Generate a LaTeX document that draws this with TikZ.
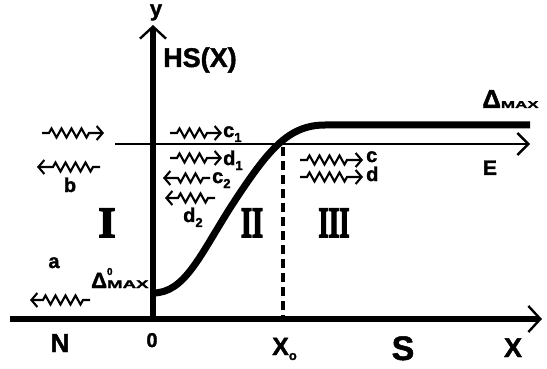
\documentclass[tikz,border=0pt]{standalone}
\usepackage{fontspec}
\setmainfont{Liberation Sans}[BoldFeatures={FakeBold=1.5}]
\newfontfamily\romfont{Liberation Serif}[BoldFeatures={FakeBold=4}]
\usetikzlibrary{arrows.meta,decorations.pathmorphing}
\newcommand\subidx[1]{\raisebox{-5pt}{\fontsize{13}{13}\selectfont#1}}
\newcommand\fs[1]{\bfseries\fontsize{#1}{#1}\selectfont}
\newcommand\wide[1]{\scalebox{1.7}[1]{#1}}
\tikzset{ax/.style={line width=6.5pt},
 tip/.style={-{Straight Barb[line width=2.4pt,length=12pt,width=26pt]}},
 spr/.style={line width=2.1pt,-{Straight Barb[line width=2.1pt,length=6pt,width=14pt]},decorate,
  decoration={zigzag,amplitude=4.5pt,segment length=10pt,pre length=7pt,post length=12pt}},
 lbl/.style={inner sep=0pt,anchor=base,font=\fs{20}},
 rom/.style={inner sep=0pt,anchor=base,font=\romfont\fs{43}}}
\begin{document}
\begin{tikzpicture}[x=1pt,y=-1pt]
\useasboundingbox (0,0) rectangle (547,369);
\coordinate (xl) at (10,319);\coordinate (xr) at (542,319);
\coordinate (yb) at (153,322);\coordinate (yt) at (153,25);
\coordinate (el) at (115,144);\coordinate (er) at (530,144);
\coordinate (cs) at (153,293);\coordinate (cm) at (232,205);
\coordinate (cf) at (325,125);\coordinate (ce) at (530,125);
\coordinate (dt) at (283,147);\coordinate (db) at (283,316);
\draw[ax,tip] (xl)--(xr);
\draw[line width=6pt,tip] (yb)--(yt);
\draw[line width=2.5pt,-{Straight Barb[line width=2.4pt,length=11pt,width=22pt]}] (el)--(er);
\draw[line width=7pt] (cs)..controls (185,293) and (200,255)..(cm)
 ..controls (268,150) and (288,125)..(cf)--(ce);
\draw[line width=3.5pt,dash pattern=on 9pt off 5pt] (dt)--(db);
% springs
\coordinate (p1) at (42,133);\coordinate (p2) at (104,133);
\coordinate (q1) at (100,167);\coordinate (q2) at (37,167);
\coordinate (k1) at (170,133);\coordinate (k2) at (222,133);
\coordinate (m1) at (170,158);\coordinate (m2) at (222,158);
\coordinate (n1) at (210,178);\coordinate (n2) at (163,178);
\coordinate (t1) at (215,198);\coordinate (t2) at (165,198);
\coordinate (u1) at (300,160);\coordinate (u2) at (363,160);
\coordinate (v1) at (300,177);\coordinate (v2) at (363,177);
\coordinate (w1) at (90,300);\coordinate (w2) at (30,300);
\foreach \s/\e in {p1/p2,q1/q2,k1/k2,m1/m2,n1/n2,t1/t2,u1/u2,v1/v2,w1/w2}
 \draw[spr] (\s)--(\e);
% labels
\node[anchor=base,inner sep=0pt,font=\fs{22}] (ylab) at (156,16) {y};
\node[anchor=base west,inner sep=0pt,font=\fs{27}] (hs) at (163,67) {HS(X)};
\node[anchor=base west,inner sep=0pt] (dmax) at (482,108) {\fs{26}Δ\fs{10}\wide{MAX}};
\node[anchor=base,inner sep=0pt,font=\fs{21}] (E) at (490,175) {E};
\node[lbl] (b) at (70,192) {b};
\node[lbl,anchor=base west] (c1) at (223,137) {c\subidx{1}};
\node[lbl,anchor=base west] (d1) at (223,165) {d\subidx{1}};
\node[lbl,anchor=base west] (c2) at (212,183) {c\subidx{2}};
\node[lbl,anchor=base west] (d2) at (183,222) {d\subidx{2}};
\node[lbl,anchor=base west] (c) at (366,162) {c};
\node[lbl,anchor=base west] (d) at (366,181) {d};
\node[rom] (r1) at (107,237) {I};
\node[rom] (r2) at (252,237) {\scalebox{0.66}[1]{II}};
\node[rom] (r3) at (334,237) {\scalebox{0.62}[1]{III}};
\node[lbl] (a) at (54,268) {a};
\node[anchor=base west,inner sep=0pt] (d0) at (91,288)
 {\fs{22}Δ\rlap{\raisebox{13pt}{\fs{10}0}}\fs{11}\wide{MAX}};
\node[anchor=base,inner sep=0pt,font=\fs{26}] (N) at (60,352) {N};
\node[anchor=base,inner sep=0pt,font=\fs{20}] (zero) at (152,347) {0};
\node[anchor=base west,inner sep=0pt,font=\fs{25}] (x0) at (272,355) {X\subidx{o}};
\node[anchor=base,inner sep=0pt,font=\fs{34}] (S) at (403,360) {S};
\node[anchor=base,inner sep=0pt,font=\fs{27}] (X) at (513,357) {X};
\end{tikzpicture}
\end{document}
